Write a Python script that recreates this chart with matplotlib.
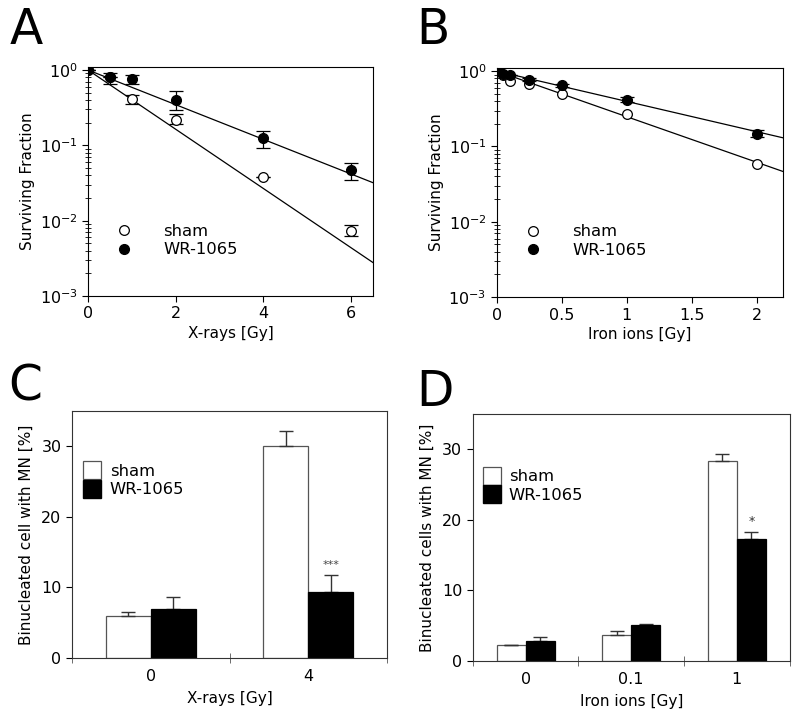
import matplotlib
matplotlib.use("Agg")
import matplotlib.pyplot as plt
import matplotlib.ticker as mticker
import matplotlib.patches as mpatches
from matplotlib.lines import Line2D
import numpy as np

plt.rcParams['font.family'] = ['DejaVu Sans']
plt.rcParams['font.size'] = 10

#%% data

# A: X-rays clonogenic survival
xray_dose = [0, 0.5, 1, 2, 4, 6]
xray_sham = [1.0, 0.80, 0.41, 0.22, 0.038, 0.0074]
xray_sham_lo = [1.0, 0.80, 0.35, 0.19, 0.038, 0.0063]
xray_sham_hi = [1.0, 0.80, 0.47, 0.26, 0.038, 0.0088]
xray_wr = [1.0, 0.80, 0.75, 0.40, 0.126, 0.047]
xray_wr_lo = [1.0, 0.65, 0.66, 0.29, 0.093, 0.035]
xray_wr_hi = [1.0, 0.92, 0.86, 0.53, 0.157, 0.059]
# fitted lines: log10(S) = -k*D
xray_k_sham = 0.393
xray_k_wr = 0.230

# B: iron ions clonogenic survival
iron_dose = [0, 0.05, 0.1, 0.25, 0.5, 1, 2]
iron_sham = [1.0, 0.88, 0.75, 0.68, 0.49, 0.27, 0.059]
iron_wr = [1.0, 0.92, 0.90, 0.77, 0.65, 0.42, 0.148]
iron_wr_err = [0, 0, 0, 0.03, 0.03, 0.03, 0.015]
iron_k_sham = 0.605
iron_k_wr = 0.402

# C: micronuclei after X-rays
c_labels = ['0', '4']
c_sham = [5.9, 30.0]
c_sham_err = [0.6, 2.2]
c_wr = [7.0, 9.3]
c_wr_err = [1.7, 2.5]

# D: micronuclei after iron ions
d_labels = ['0', '0.1', '1']
d_sham = [2.3, 3.7, 28.3]
d_sham_err = [0.0, 0.5, 1.0]
d_wr = [2.85, 5.1, 17.3]
d_wr_err = [0.55, 0.1, 1.0]

#%% figure

fig = plt.figure(figsize=(8, 7.16), dpi=100)


def survival_axes(ax, xmax, xticks, xlabel, leg_anchor):
    ax.set_yscale('log')
    ax.set_ylim(1e-3, 1.1)
    ax.set_xlim(0, xmax)
    ax.set_xticks(xticks)
    ax.yaxis.set_major_locator(mticker.LogLocator(base=10, numticks=10))
    ax.yaxis.set_minor_locator(mticker.LogLocator(base=10, subs=np.arange(2, 10), numticks=10))
    ax.yaxis.set_minor_formatter(mticker.NullFormatter())
    ax.tick_params(axis='y', which='minor', direction='inout', length=5, width=0.6)
    ax.tick_params(axis='both', which='major', direction='out', length=4, width=0.8, labelsize=11.5)
    ax.tick_params(axis='x', which='minor', bottom=False)
    ax.set_xlabel(xlabel, fontsize=11, labelpad=3)
    ax.set_ylabel('Surviving Fraction', fontsize=11, labelpad=3)
    for s in ax.spines.values():
        s.set_linewidth(0.8)
    h1 = Line2D([], [], marker='o', ls='none', mfc='white', mec='black', ms=7, mew=0.9)
    h2 = Line2D([], [], marker='o', ls='none', mfc='black', mec='black', ms=7)
    ax.legend([h1, h2], ['sham', 'WR-1065'], loc='lower left', bbox_to_anchor=leg_anchor,
              frameon=False, fontsize=11.8, handletextpad=1.4, labelspacing=0.2, borderpad=0)


# panel A
axA = fig.add_axes([0.110, 0.5866, 0.356, 0.320])
xx = np.linspace(0, 6.5, 50)
axA.plot(xx, 10 ** (-xray_k_sham * xx), color='black', lw=0.9, zorder=2)
axA.plot(xx, 10 ** (-xray_k_wr * xx), color='black', lw=0.9, zorder=2)
y = np.array(xray_sham)
axA.errorbar(xray_dose, y, yerr=[y - np.array(xray_sham_lo), np.array(xray_sham_hi) - y],
             fmt='o', mfc='white', mec='black', ecolor='black', ms=7, mew=0.9,
             elinewidth=0.9, capsize=5, capthick=0.9, zorder=3)
y = np.array(xray_wr)
axA.errorbar(xray_dose, y, yerr=[y - np.array(xray_wr_lo), np.array(xray_wr_hi) - y],
             fmt='o', mfc='black', mec='black', ecolor='black', ms=7,
             elinewidth=0.9, capsize=5, capthick=0.9, zorder=4)
survival_axes(axA, 6.5, [0, 2, 4, 6], 'X-rays [Gy]', (0.04, 0.133))

# panel B
axB = fig.add_axes([0.621, 0.585, 0.3575, 0.320])
xx = np.linspace(0, 2.2, 50)
axB.plot(xx, 10 ** (-iron_k_sham * xx), color='black', lw=0.9, zorder=2)
axB.plot(xx, 10 ** (-iron_k_wr * xx), color='black', lw=0.9, zorder=2)
axB.plot(iron_dose, iron_sham, 'o', mfc='white', mec='black', ms=7, mew=0.9, zorder=3)
axB.errorbar(iron_dose, iron_wr, yerr=iron_wr_err, fmt='o', mfc='black', mec='black',
             ecolor='black', ms=7, elinewidth=0.9, capsize=5, capthick=0.9, zorder=4)
survival_axes(axB, 2.2, [0, 0.5, 1, 1.5, 2], 'Iron ions [Gy]', (0.04, 0.137))
axB.xaxis.set_major_formatter(mticker.FuncFormatter(lambda v, p: '%g' % v))


def bar_axes(ax, labels, sham, sham_err, wr, wr_err, ylabel, xlabel, w, leg_anchor):
    n = len(labels)
    x = np.arange(n)
    ax.bar(x - w / 2, sham, w, color='white', edgecolor='#555555', lw=0.9, zorder=2)
    ax.bar(x + w / 2, wr, w, color='black', edgecolor='black', lw=0.9, zorder=2)
    ax.errorbar(x - w / 2, sham, yerr=[np.zeros(n), sham_err], fmt='none', ecolor='#333333',
                elinewidth=1.0, capsize=5, capthick=1.0, zorder=3)
    ax.errorbar(x + w / 2, wr, yerr=[np.zeros(n), wr_err], fmt='none', ecolor='#333333',
                elinewidth=1.0, capsize=5, capthick=1.0, zorder=1)
    ax.set_xlim(-0.5, n - 0.5)
    ax.set_ylim(0, 35)
    ax.set_yticks([0, 10, 20, 30])
    ax.set_xticks(x)
    ax.set_xticklabels(labels)
    ax.set_xticks(np.arange(n + 1) - 0.5, minor=True)
    ax.tick_params(axis='x', which='major', length=0, labelsize=11.5, pad=8)
    ax.tick_params(axis='x', which='minor', direction='inout', length=7, width=0.6, color='#555555')
    ax.tick_params(axis='y', which='major', direction='out', length=4, width=0.8, labelsize=11.5)
    ax.set_xlabel(xlabel, fontsize=11, labelpad=5)
    ax.set_ylabel(ylabel, fontsize=11, labelpad=5)
    for s in ax.spines.values():
        s.set_linewidth(0.8)
        s.set_color('#333333')
    h1 = mpatches.Patch(facecolor='white', edgecolor='#555555', lw=0.9)
    h2 = mpatches.Patch(facecolor='black', edgecolor='black')
    ax.legend([h1, h2], ['sham', 'WR-1065'], loc='upper left', bbox_to_anchor=leg_anchor,
              frameon=False, fontsize=11.8, handlelength=1.1, handleheight=1.3,
              handletextpad=0.5, labelspacing=0.05, borderpad=0)
    return x


# panel C
axC = fig.add_axes([0.090, 0.081, 0.394, 0.345])
xc = bar_axes(axC, c_labels, c_sham, c_sham_err, c_wr, c_wr_err,
              'Binucleated cell with MN [%]', 'X-rays [Gy]', 0.285, (0.01, 0.83))
axC.text(xc[1] + 0.285 / 2, c_wr[1] + c_wr_err[1] + 0.7, '***', ha='center', va='bottom',
         fontsize=8, color='#444444')

# panel D
axD = fig.add_axes([0.591, 0.0768, 0.396, 0.345])
xd = bar_axes(axD, d_labels, d_sham, d_sham_err, d_wr, d_wr_err,
              'Binucleated cells with MN [%]', 'Iron ions [Gy]', 0.275, (0.005, 0.82))
axD.text(xd[2] + 0.275 / 2, d_wr[2] + d_wr_err[2] + 0.6, '*', ha='center', va='bottom',
         fontsize=9, color='#333333')

# panel letters
fig.text(10 / 800, 1 - 6 / 716, 'A', fontsize=35, va='top', ha='left')
fig.text(416 / 800, 1 - 6 / 716, 'B', fontsize=35, va='top', ha='left')
fig.text(8 / 800, 1 - 362 / 716, 'C', fontsize=35, va='top', ha='left')
fig.text(416 / 800, 1 - 368 / 716, 'D', fontsize=35, va='top', ha='left')

fig.savefig('out.png', dpi=100)
